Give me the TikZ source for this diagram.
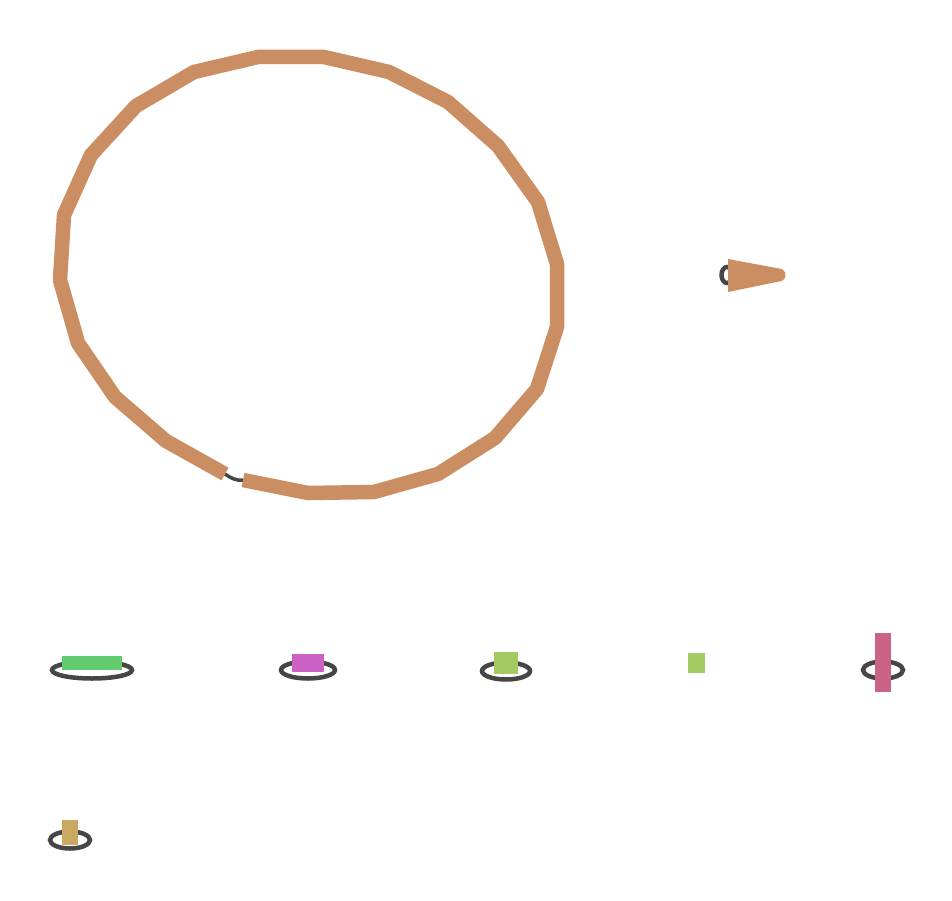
\documentclass[tikz,border=0pt]{standalone}
\usepackage{tikz}
\usetikzlibrary{positioning}
\definecolor{segorange}{RGB}{203,142,98}
\definecolor{linkgray}{RGB}{70,70,70}
\definecolor{seggreen}{RGB}{98,204,110}
\definecolor{segmagenta}{RGB}{204,98,196}
\definecolor{seglime}{RGB}{161,203,98}
\definecolor{segpink}{RGB}{204,98,134}
\definecolor{segtan}{RGB}{201,168,98}
\tikzset{
  segment/.style={line width=14.5pt,draw=segorange,line join=round},
  link/.style={line width=3.5pt,draw=linkgray},
  selfloop/.style={line width=4.5pt,draw=linkgray},
  block/.style={rectangle,inner sep=0pt,draw=none}
}

\begin{document}
\begin{tikzpicture}[x=1pt,y=-1pt]
  \useasboundingbox (0,0) rectangle (952,901);

  % long circular segment
  \foreach \i/\x/\y in {0/225/474,1/166/441,2/115/397,3/78/343,4/60/280,5/64/215,
      6/91/155,7/136/106,8/194/72,9/258/57,10/324/57,11/389/72,12/448/102,
      13/498/146,14/538/202,15/557/264,16/557/327,17/537/389,18/495/438,
      19/438/474,20/374/492,21/308/493,22/243/480}{
    \coordinate (p\i) at (\x,\y);
  }
  \draw[link] (p0) .. controls (231,478) and (236,481) .. (p22);
  \draw[segment] (p0) \foreach \i in {1,...,22}{ -- (p\i)};

  % short tapered segment with its own loop
  \coordinate (t0) at (727,275);
  \draw[selfloop] (t0) ellipse [x radius=5.5, y radius=8];
  \fill[segorange] (728,259) -- (779,268.5) -- (779,281.5) -- (728,292) -- cycle;
  \fill[segorange] (779,275) circle [radius=6.5];

  % small segments
  \foreach \n/\x/\y/\rx/\w/\h/\c in {a/92/670/40/60/14/seggreen,
      b/308/670/27/32/18/segmagenta,c/506/671/24/24/22/seglime,
      e/883/670/20/16/59/segpink,f/70/840/20/16/25/segtan}{
    \draw[selfloop] (\x,\y) ellipse [x radius=\rx, y radius=8.5];
  }
  \node[block,fill=seggreen,minimum width=60pt,minimum height=14pt] (sa) at (92,663) {};
  \node[block,fill=segmagenta,minimum width=32pt,minimum height=18pt] (sb) at (308,663) {};
  \node[block,fill=seglime,minimum width=24pt,minimum height=22pt] (sc) at (506,663) {};
  \node[block,fill=seglime,minimum width=17pt,minimum height=20pt] (sd) at (696.5,663) {};
  \node[block,fill=segpink,minimum width=16pt,minimum height=59pt] (se) at (883,662.5) {};
  \node[block,fill=segtan,minimum width=16pt,minimum height=25pt] (sf) at (70,832.5) {};
\end{tikzpicture}
\end{document}
